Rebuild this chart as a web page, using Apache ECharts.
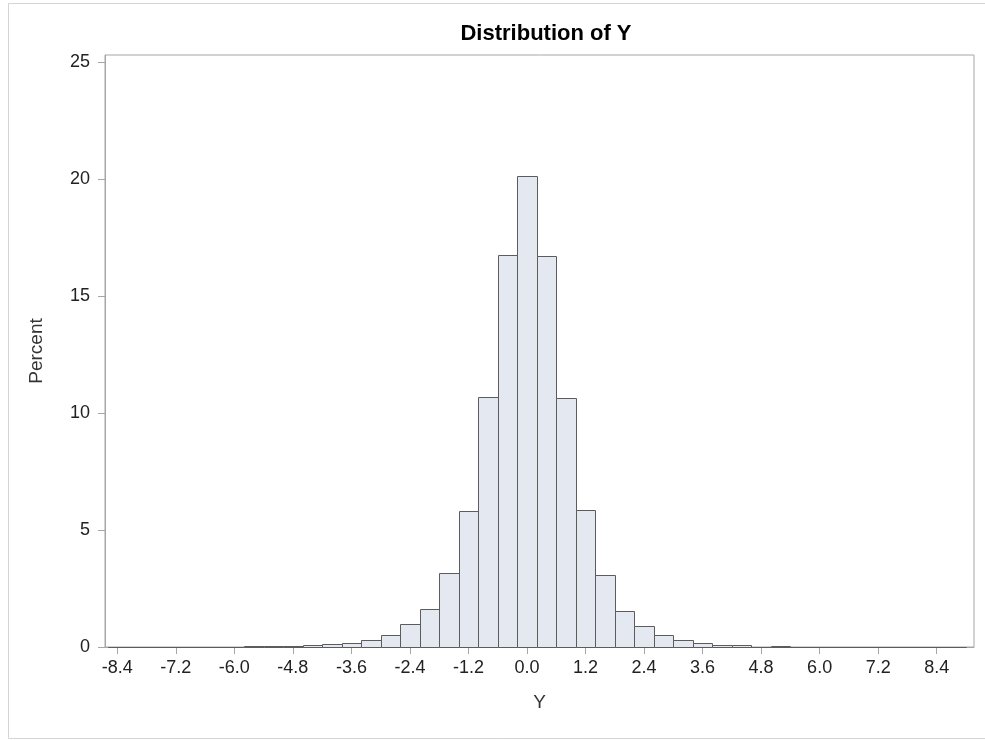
<!DOCTYPE html>
<html>
<head>
<meta charset="utf-8">
<script src="https://cdn.jsdelivr.net/npm/echarts@6/dist/echarts.min.js"></script>
<style>html,body{margin:0;padding:0;background:#fff;}#c{width:985px;height:740px;}</style>
</head>
<body>
<div id="c"></div>
<script>
// Bin midpoints (Y) and percent per bin
const binMidpoints = [-8.4, -8.0, -7.6, -7.2, -6.8, -6.4, -6.0, -5.6, -5.2, -4.8, -4.4, -4.0, -3.6, -3.2, -2.8, -2.4, -2.0, -1.6, -1.2, -0.8, -0.4, 0.0,
                      0.4, 0.8, 1.2, 1.6, 2.0, 2.4, 2.8, 3.2, 3.6, 4.0, 4.4, 4.8, 5.2, 5.6, 6.0, 6.4, 6.8, 7.2, 7.6, 8.0, 8.4, 8.8];
const percents = [0.01, 0.01, 0.01, 0.02, 0.02, 0.01, 0.01, 0.03, 0.03, 0.04, 0.07, 0.12, 0.17, 0.29, 0.50, 0.97, 1.64, 3.18, 5.83, 10.70, 16.75, 20.12,
                  16.72, 10.63, 5.85, 3.09, 1.53, 0.88, 0.50, 0.30, 0.16, 0.10, 0.08, 0.02, 0.03, 0.01, 0.01, 0.01, 0.01, 0.01, 0.01, 0.01, 0.01, 0.01];
const binWidth = 0.4;
const xTickLabels = [-8.4, -7.2, -6.0, -4.8, -3.6, -2.4, -1.2, 0.0, 1.2, 2.4, 3.6, 4.8, 6.0, 7.2, 8.4];
const yTickLabels = [0, 5, 10, 15, 20, 25];
const titleText = 'Distribution of Y';
const xName = 'Y';
const yName = 'Percent';

const font = '"Liberation Sans", Arial, sans-serif';
const data = binMidpoints.map((m, i) => [m, percents[i]]);

const chart = echarts.init(document.getElementById('c'), null, {renderer: 'canvas'});
chart.setOption({
  animation: false,
  backgroundColor: '#fff',
  title: {
    text: titleText,
    left: 541, top: 18, textAlign: 'center',
    textStyle: {fontFamily: font, fontSize: 22, fontWeight: 'bold', color: '#000'}
  },
  graphic: [{
    type: 'rect', left: 6, top: 1, z: -1,
    shape: {width: 978, height: 735},
    style: {fill: 'none', stroke: '#d4d4d4', lineWidth: 1}
  }],
  grid: {left: 105, top: 55, right: 11, bottom: 93, show: true, borderColor: '#a6a6a6', borderWidth: 1, containLabel: false},
  xAxis: {
    type: 'value', min: -8.652, max: 9.165,
    name: xName, nameLocation: 'middle', nameGap: 46,
    nameTextStyle: {fontFamily: font, fontSize: 19, color: '#333'},
    axisLine: {show: true, onZero: false, lineStyle: {color: '#a6a6a6'}},
    axisTick: {show: true, length: 7, lineStyle: {color: '#a6a6a6'}, customValues: xTickLabels},
    axisLabel: {fontFamily: font, fontSize: 18, color: '#222', margin: 12, customValues: xTickLabels,
                formatter: v => v.toFixed(1)},
    splitLine: {show: false}
  },
  yAxis: {
    type: 'value', min: 0, max: 25.3,
    name: yName, nameLocation: 'middle', nameGap: 59, nameRotate: 90,
    nameTextStyle: {fontFamily: font, fontSize: 19, color: '#333'},
    axisLine: {show: true, onZero: false, lineStyle: {color: '#a6a6a6'}},
    axisTick: {show: true, length: 7, lineStyle: {color: '#a6a6a6'}, customValues: yTickLabels},
    axisLabel: {fontFamily: font, fontSize: 18, color: '#222', margin: 15, customValues: yTickLabels},
    splitLine: {show: false}
  },
  series: [{
    type: 'custom',
    data: data,
    encode: {x: 0, y: 1},
    renderItem: function (params, api) {
      const x = api.value(0), y = api.value(1);
      const p0 = api.coord([x - binWidth / 2, y]);
      const p1 = api.coord([x + binWidth / 2, 0]);
      return {
        type: 'rect',
        shape: {x: Math.round(p0[0]) + 0.5, y: Math.round(p0[1]) + 0.5,
                width: Math.round(p1[0]) - Math.round(p0[0]), height: Math.round(p1[1]) - Math.round(p0[1])},
        style: {fill: '#e3e8f1', stroke: '#5c5c5c', lineWidth: 1}
      };
    }
  }]
});
</script>
</body>
</html>
